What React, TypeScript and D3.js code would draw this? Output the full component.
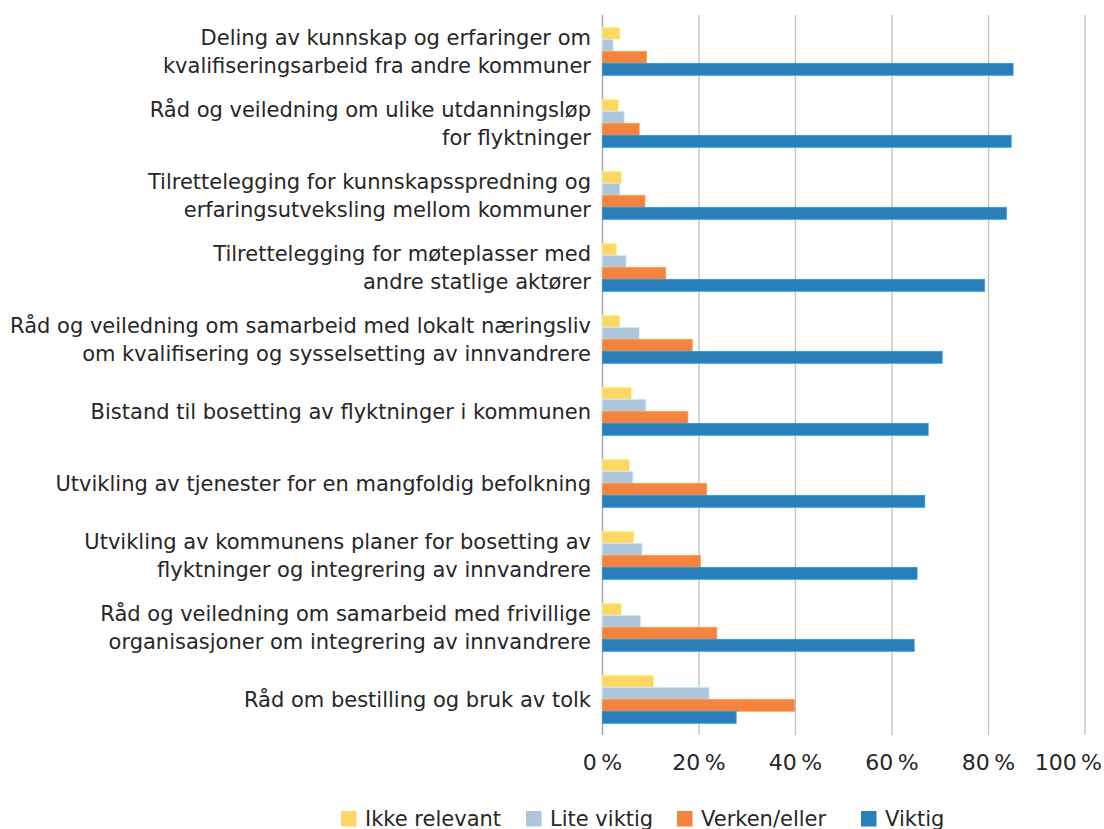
import React from "react";
import * as d3 from "d3";

const categories: string[][] = [
  ["Deling av kunnskap og erfaringer om", "kvalifiseringsarbeid fra andre kommuner"],
  ["Råd og veiledning om ulike utdanningsløp", "for flyktninger"],
  ["Tilrettelegging for kunnskapsspredning og", "erfaringsutveksling mellom kommuner"],
  ["Tilrettelegging for møteplasser med", "andre statlige aktører"],
  ["Råd og veiledning om samarbeid med lokalt næringsliv", "om kvalifisering og sysselsetting av innvandrere"],
  ["Bistand til bosetting av flyktninger i kommunen"],
  ["Utvikling av tjenester for en mangfoldig befolkning"],
  ["Utvikling av kommunens planer for bosetting av", "flyktninger og integrering av innvandrere"],
  ["Råd og veiledning om samarbeid med frivillige", "organisasjoner om integrering av innvandrere"],
  ["Råd om bestilling og bruk av tolk"],
];

const seriesNames = ["Ikke relevant", "Lite viktig", "Verken/eller", "Viktig"];
const seriesColors = ["#FDD666", "#ADC6DC", "#F4843D", "#2A7FBA"];

const ikkeRelevant = [3.6, 3.3, 3.9, 2.9, 3.6, 6.0, 5.6, 6.5, 3.9, 10.6];
const liteViktig = [2.2, 4.5, 3.6, 4.9, 7.6, 9.0, 6.3, 8.2, 7.9, 22.1];
const verkenEller = [9.1, 7.6, 8.8, 13.1, 18.6, 17.7, 21.6, 20.3, 23.7, 39.8];
const viktig = [85.1, 84.7, 83.7, 79.2, 70.4, 67.5, 66.8, 65.2, 64.6, 27.7];

const seriesValues = [ikkeRelevant, liteViktig, verkenEller, viktig];
const xTicks = [0, 20, 40, 60, 80, 100];

const FONT = "'DejaVu Sans', Verdana, sans-serif";

export default function App() {
  const W = 1104;
  const H = 829;
  const x = d3.scaleLinear().domain([0, 100]).range([602.5, 1085]);
  const keys = categories.map((_, i) => String(i));
  const y = d3.scaleBand().domain(keys).range([15.3, 735.3]).paddingInner(1 / 3).paddingOuter(1 / 6);
  const ySub = d3.scaleBand().domain(seriesNames).range([0, y.bandwidth()]);
  const lineH = 28;

  const legendX = [341, 526, 677, 861];

  return (
    <svg width={W} height={H} style={{ position: "absolute", left: 0, top: 0, background: "#fff" }} fontFamily={FONT}>
      {xTicks.map((t) => (
        <line key={"g" + t} x1={x(t)} x2={x(t)} y1={15} y2={735} stroke={t === 0 ? "#A6A6A6" : "#BFBFBF"} strokeWidth={t === 0 ? 1.5 : 1.3} />
      ))}
      {keys.map((k, i) => (
        <g key={k} transform={`translate(0,${y(k)})`}>
          {seriesNames.map((s, j) => {
            const c = d3.color(seriesColors[j])!.brighter(0.5).formatHex();
            return (
              <rect
                key={s}
                x={x(0)}
                y={ySub(s)!}
                width={x(seriesValues[j][i]) - x(0)}
                height={ySub.bandwidth()}
                fill={seriesColors[j]}
                stroke={c}
                strokeWidth={0.8}
              />
            );
          })}
        </g>
      ))}
      {keys.map((k, i) => {
        const lines = categories[i];
        const cy = y(k)! + y.bandwidth() / 2;
        const start = cy - ((lines.length - 1) * lineH) / 2;
        return (
          <text key={"l" + k} x={591} textAnchor="end" fontSize={21} fill="#262626">
            {lines.map((ln, li) => (
              <tspan key={li} x={591} y={start + li * lineH} dy="0.36em">
                {ln}
              </tspan>
            ))}
          </text>
        );
      })}
      {xTicks.map((t) => (
        <text
          key={"t" + t}
          x={t === 100 ? 1102 : x(t)}
          y={770}
          textAnchor={t === 100 ? "end" : "middle"}
          fontSize={22}
          fill="#262626"
        >
          {t + "\u2009%"}
        </text>
      ))}
      {seriesNames.map((s, j) => (
        <g key={"lg" + s}>
          <rect x={legendX[j]} y={811} width={15.5} height={15.5} fill={seriesColors[j]} />
          <text x={legendX[j] + 24} y={825.5} fontSize={21} fill="#262626">
            {s}
          </text>
        </g>
      ))}
    </svg>
  );
}
